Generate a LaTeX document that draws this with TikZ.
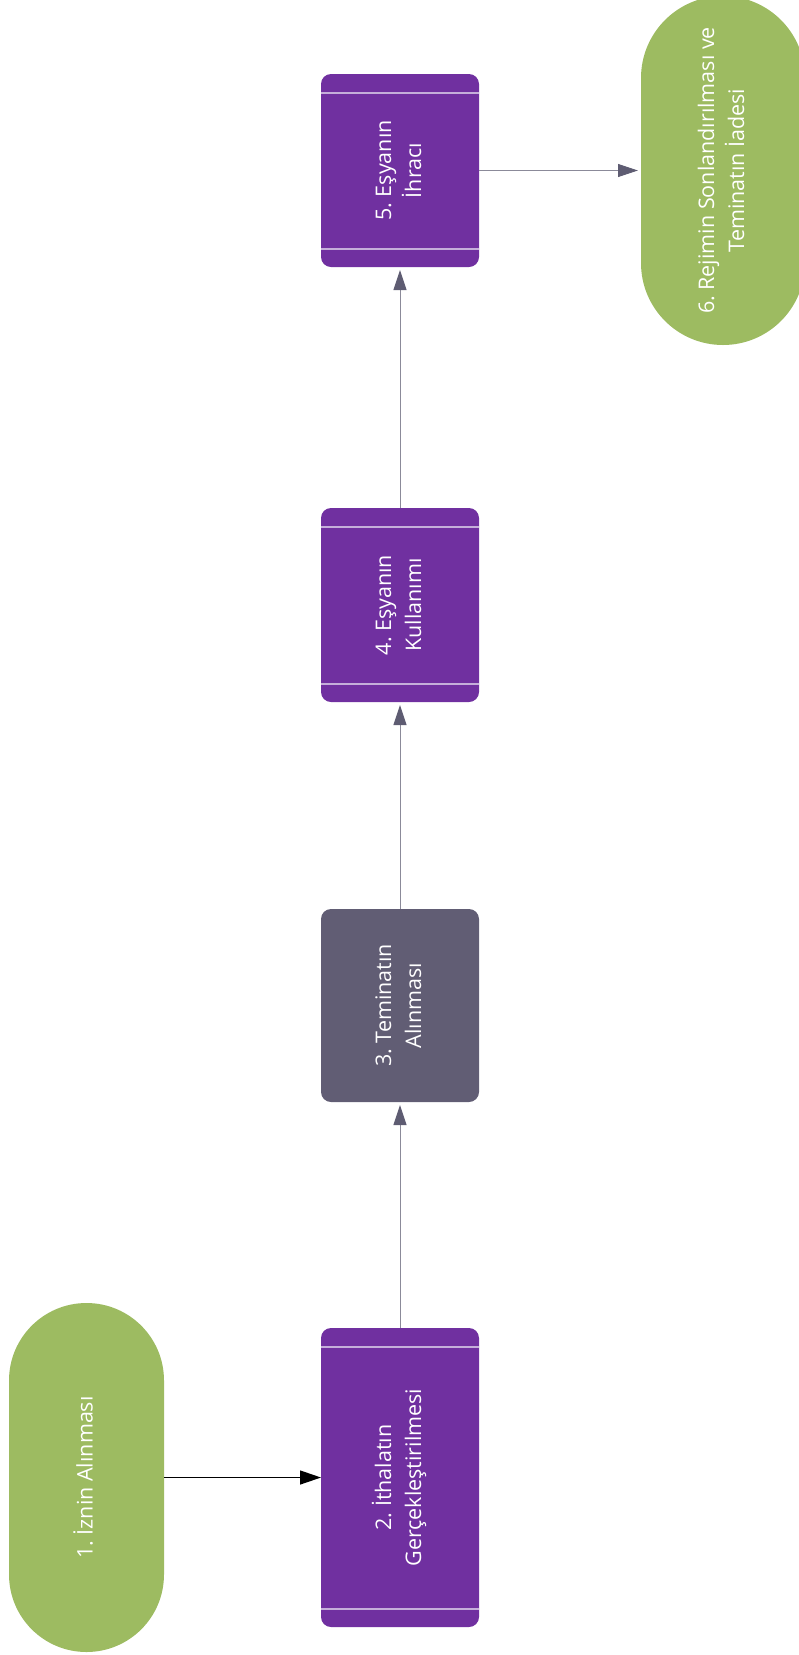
\documentclass[tikz,border=0pt]{standalone}
\usepackage{fontspec}
\setmainfont{Open Sans}
\usepackage{graphicx}
\usetikzlibrary{arrows.meta}
\definecolor{mor}{HTML}{7030A0}
\definecolor{yesil}{HTML}{9DBB61}
\definecolor{gri}{HTML}{615D74}
\definecolor{serit}{HTML}{C5AEDA}
\definecolor{okgri}{HTML}{8B8A99}
\definecolor{okucu}{HTML}{5E5C72}
\newcommand{\dikyazi}[1]{\rotatebox{90}{\begin{tabular}{@{}c@{}}#1\end{tabular}}}
\frenchspacing
\begin{document}
\begin{tikzpicture}[x=1pt,y=-1pt,
		every node/.style={text=white,inner sep=0,outer sep=0,font=\fontsize{21.5}{30}\selectfont},
		kutu/.style={rectangle,rounded corners=10pt,minimum width=158pt},
		seritli/.style={kutu,fill=mor,path picture={
			\draw[serit,line width=1.3pt]
				([yshift=-19pt]path picture bounding box.north west) -- ([yshift=-19pt]path picture bounding box.north east)
				([yshift=18pt]path picture bounding box.south west) -- ([yshift=18pt]path picture bounding box.south east);}},
		duz/.style={kutu,fill=gri},
		hap/.style={rectangle,fill=yesil,minimum height=349pt},
		siyahok/.style={line width=1.3pt,-{Triangle[length=21pt,width=14pt]}},
		griok/.style={okgri,line width=1pt,shorten >=3pt,-{Triangle[length=20pt,width=13pt,color=okucu]}}]
		\useasboundingbox (0,0) rectangle (799,1655);
		\node[hap,minimum width=155pt,rounded corners=77.5pt] (izin) at (86.5,1477.5) {\dikyazi{1. İznin Alınması}};
		\node[seritli,minimum height=299pt] (ithal) at (400,1477.5) {\dikyazi{2. İthalatın\\Gerçekleştirilmesi}};
		\node[duz,minimum height=193pt] (temin) at (400,1005.5) {\dikyazi{3. Teminatın\\Alınması}};
		\node[seritli,minimum height=194pt] (kull) at (400,605) {\dikyazi{4. Eşyanın\\Kullanımı}};
		\node[seritli,minimum height=193pt] (ihrac) at (400,170.5) {\dikyazi{5. Eşyanın\\İhracı}};
		\node[hap,minimum width=164pt,rounded corners=82pt] (son) at (723,170.5) {\dikyazi{6. Rejimin Sonlandırılması ve\\Teminatın İadesi}};
		\draw[siyahok] (izin.east) -- (ithal.west);
		\draw[griok] (ithal.north) -- (temin.south);
		\draw[griok] (temin.north) -- (kull.south);
		\draw[griok] (kull.north) -- (ihrac.south);
		\draw[griok] (ihrac.east) -- (son.west);
\end{tikzpicture}
\end{document}
